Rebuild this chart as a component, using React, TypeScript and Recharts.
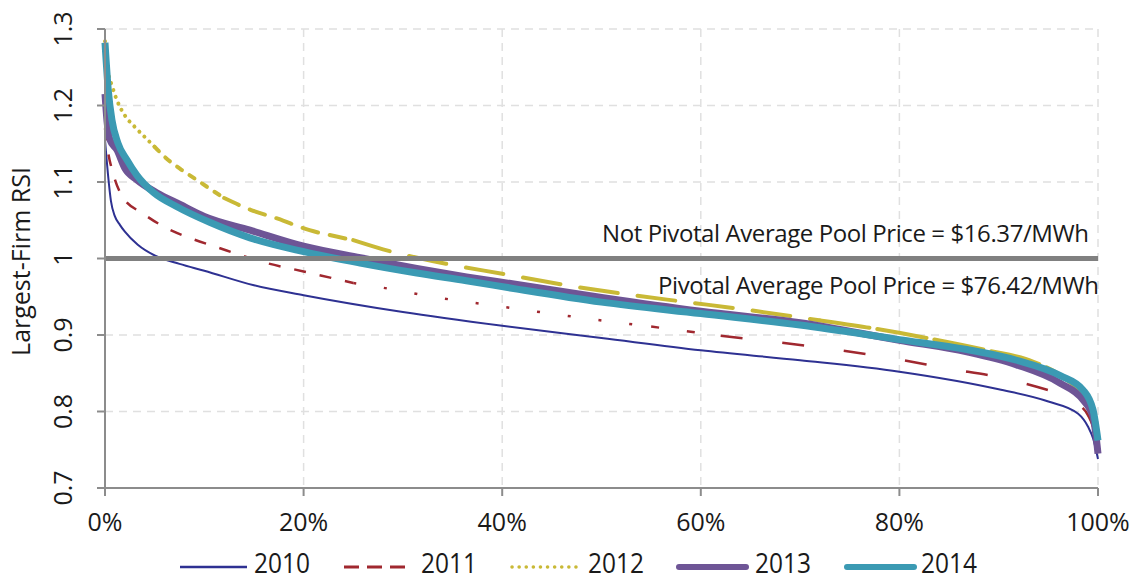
import React from 'react';
import { LineChart, Line, XAxis, YAxis, CartesianGrid, ReferenceLine } from 'recharts';

// ---------- data ----------
const X_TICKS = [0, 20, 40, 60, 80, 100];
const Y_TICKS = [0.7, 0.8, 0.9, 1.0, 1.1, 1.2, 1.3];
const Y_TICK_LABELS = ['0.7', '0.8', '0.9', '1', '1.1', '1.2', '1.3'];
const SERIES_NAMES = ['2010', '2011', '2012', '2013', '2014'];
const Y_TITLE = 'Largest-Firm RSI';
const NOT_PIVOTAL_LABEL = 'Not Pivotal Average Pool Price = $16.37/MWh';
const PIVOTAL_LABEL = 'Pivotal Average Pool Price = $76.42/MWh';
const THRESHOLD = 1.0;

const pct2010 = [0, 0.3, 0.6, 1, 1.5, 2, 3.3, 5, 7.5, 10, 15, 20, 30, 40, 50, 60, 70, 80, 90, 95, 98, 99, 99.5, 100];
const rsi2010 = [1.155, 1.11, 1.075, 1.055, 1.044, 1.035, 1.018, 1.004, 0.993, 0.984, 0.965, 0.952, 0.93, 0.912, 0.896, 0.88, 0.867, 0.852, 0.829, 0.813, 0.797, 0.78, 0.765, 0.738];

const pct2011 = [0, 0.3, 0.8, 1.8, 3.8, 6, 8.5, 11, 16, 20, 25, 27, 33, 40, 50, 55, 62, 70, 80, 85, 90, 95, 97, 98, 99, 99.5, 100];
const rsi2011 = [1.17, 1.14, 1.112, 1.08, 1.059, 1.041, 1.027, 1.016, 0.995, 0.983, 0.968, 0.964, 0.95, 0.937, 0.919, 0.911, 0.899, 0.887, 0.868, 0.856, 0.845, 0.828, 0.82, 0.81, 0.795, 0.78, 0.75];

const pct2012 = [0, 0.3, 0.7, 1.2, 2, 3, 4.3, 5, 6, 7.7, 9.2, 10.7, 12, 14.6, 17.4, 20.6, 23.2, 25, 28, 34.4, 40, 46.5, 52.6, 58.6, 64.6, 70, 72, 76.7, 82.8, 88.8, 93.5, 96.9, 98.9, 99.5, 100];
const rsi2012 = [1.284, 1.245, 1.226, 1.207, 1.187, 1.172, 1.155, 1.146, 1.133, 1.116, 1.103, 1.09, 1.079, 1.064, 1.052, 1.037, 1.029, 1.024, 1.012, 0.993, 0.98, 0.965, 0.953, 0.943, 0.933, 0.923, 0.919, 0.91, 0.896, 0.88, 0.865, 0.841, 0.815, 0.8, 0.77];

const pct2013 = [0, 0.2, 0.5, 1.2, 2, 3.2, 5.2, 7.5, 10, 14.6, 20, 25.7, 31.4, 36.4, 41.5, 50, 60, 70, 80, 86.8, 91.8, 96.2, 98.5, 99.5, 100];
const rsi2013 = [1.215, 1.18, 1.155, 1.142, 1.118, 1.103, 1.086, 1.071, 1.055, 1.037, 1.016, 1.001, 0.987, 0.976, 0.966, 0.949, 0.931, 0.916, 0.893, 0.878, 0.861, 0.837, 0.815, 0.793, 0.745];

const pct2014 = [0, 0.33, 0.7, 1.3, 2.2, 3.2, 4.9, 7.2, 10.6, 14.6, 20, 25.7, 31.4, 36.4, 41.5, 50, 60, 70, 80, 86.8, 91.8, 96.2, 98.5, 99.5, 100];
const rsi2014 = [1.282, 1.22, 1.181, 1.151, 1.129, 1.109, 1.086, 1.068, 1.047, 1.027, 1.009, 0.994, 0.981, 0.971, 0.96, 0.943, 0.928, 0.913, 0.894, 0.881, 0.867, 0.847, 0.828, 0.802, 0.762];

// ---------- helpers / styles ----------
const FONT = "'Open Sans', 'DejaVu Sans', sans-serif";
const LEGEND_FONT = "'Liberation Sans Narrow', 'Open Sans', sans-serif";
const AXIS_COLOR = '#8c8c8c';
const GRID_COLOR = '#e0e0e0';
const TEXT_COLOR = '#1a1a1a';

const toPoints = (pcts: number[], vals: number[]) => pcts.map((p, i) => ({ x: p, y: vals[i] }));
const segment = (pcts: number[], vals: number[], a: number, b: number) =>
  toPoints(pcts, vals).filter((d) => d.x >= a && d.x <= b);

const COLORS = {
  '2010': '#2e3192',
  '2011': '#a0282f',
  '2012': '#c9b936',
  '2013': '#6e5596',
  '2014': '#3b9ab3',
};

// dash styling segments: [from, to, dasharray]
const SEG_2011: [number, number, string][] = [
  [0, 25, '12 14'],
  [25, 55, '3 28'],
  [55, 62, '8 28'],
  [62, 100, '22 40'],
];
const SEG_2012: [number, number, string][] = [
  [0, 5, '0.1 7'],
  [5, 12, '6 9'],
  [12, 25, '16 12'],
  [25, 72, '38 20'],
  [72, 100, '50 8'],
];

const YTick = (props: any) => {
  const { y, payload } = props;
  const idx = Y_TICKS.findIndex((t) => Math.abs(t - payload.value) < 1e-6);
  const label = idx >= 0 ? Y_TICK_LABELS[idx] : String(payload.value);
  return (
    <g transform={`translate(72, ${y}) rotate(-90)`}>
      <text x={0} y={0} textAnchor="middle" fontFamily={FONT} fontSize={25} fill={TEXT_COLOR}>
        {label}
      </text>
    </g>
  );
};

const XTick = (props: any) => {
  const { x, y, payload } = props;
  return (
    <text x={x} y={y + 33} textAnchor="middle" fontFamily={FONT} fontSize={25} fill={TEXT_COLOR}>
      {`${payload.value}%`}
    </text>
  );
};

const YTitle = (props: any) => {
  const vb = props.viewBox || { x: 0, y: 29, width: 105, height: 459 };
  const cy = vb.y + vb.height / 2 + 3;
  return (
    <g transform={`translate(30, ${cy}) rotate(-90)`}>
      <text x={0} y={0} textAnchor="middle" fontFamily={FONT} fontSize={25} fill={TEXT_COLOR}>
        {Y_TITLE}
      </text>
    </g>
  );
};

const AnnotationLabel = (props: any) => {
  const vb = props.viewBox || { x: 105, y: 259, width: 993, height: 0 };
  const right = vb.x + vb.width;
  const y = vb.y;
  return (
    <g fontFamily={FONT} fontSize={24} fill={TEXT_COLOR}>
      <text x={right - 9} y={y - 17} textAnchor="end" textLength={487}>
        {NOT_PIVOTAL_LABEL}
      </text>
      <text x={right + 1} y={y + 35} textAnchor="end" textLength={441}>
        {PIVOTAL_LABEL}
      </text>
    </g>
  );
};

const LEGEND_ITEMS = [
  { name: SERIES_NAMES[0], x1: 180, x2: 247, tx: 254, w: 2.5, dash: undefined, cap: 'butt' },
  { name: SERIES_NAMES[1], x1: 344, x2: 413, tx: 421, w: 3, dash: '15 8', cap: 'butt' },
  { name: SERIES_NAMES[2], x1: 512, x2: 577, tx: 588, w: 3.5, dash: '0.1 7', cap: 'round' },
  { name: SERIES_NAMES[3], x1: 679, x2: 746, tx: 755, w: 6, dash: undefined, cap: 'round' },
  { name: SERIES_NAMES[4], x1: 847, x2: 914, tx: 921, w: 6, dash: undefined, cap: 'round' },
];

const LegendOverlay = () => (
  <svg
    width={1134}
    height={582}
    style={{ position: 'absolute', left: 0, top: 0, pointerEvents: 'none' }}
  >
    {LEGEND_ITEMS.map((it) => (
      <g key={it.name}>
        <line
          x1={it.x1}
          x2={it.x2}
          y1={567}
          y2={567}
          stroke={(COLORS as any)[it.name]}
          strokeWidth={it.w}
          strokeDasharray={it.dash}
          strokeLinecap={it.cap as any}
        />
        <text
          x={it.tx}
          y={573}
          fontFamily={LEGEND_FONT}
          fontSize={27}
          fill={TEXT_COLOR}
          textLength={56}
          lengthAdjust="spacingAndGlyphs"
        >
          {it.name}
        </text>
      </g>
    ))}
  </svg>
);

export default function App() {
  return (
    <div style={{ position: 'absolute', left: 0, top: 0, width: 1134, height: 582, background: '#fff' }}>
      <LineChart width={1134} height={582} margin={{ top: 29, right: 36, left: 0, bottom: 54 }}>
        <CartesianGrid stroke={GRID_COLOR} strokeWidth={1.5} strokeDasharray="8 6" />
        <XAxis
          type="number"
          dataKey="x"
          domain={[0, 100]}
          ticks={X_TICKS}
          height={40}
          tickSize={8}
          axisLine={{ stroke: AXIS_COLOR, strokeWidth: 2 }}
          tickLine={{ stroke: AXIS_COLOR, strokeWidth: 2 }}
          tick={<XTick />}
          interval={0}
        />
        <YAxis
          type="number"
          dataKey="y"
          domain={[0.7, 1.3]}
          ticks={Y_TICKS}
          width={105}
          tickSize={8}
          allowDataOverflow
          axisLine={{ stroke: AXIS_COLOR, strokeWidth: 2 }}
          tickLine={{ stroke: AXIS_COLOR, strokeWidth: 2 }}
          tick={<YTick />}
          interval={0}
          label={(p: any) => <YTitle {...p} />}
        />
        <Line
          data={toPoints(pct2010, rsi2010)}
          dataKey="y"
          name={SERIES_NAMES[0]}
          type="monotone"
          stroke={COLORS['2010']}
          strokeWidth={2}
          dot={false}
          isAnimationActive={false}
        />
        {SEG_2011.map(([a, b, dash]) => (
          <Line
            key={`2011-${a}`}
            data={segment(pct2011, rsi2011, a, b)}
            dataKey="y"
            name={SERIES_NAMES[1]}
            type="monotone"
            stroke={COLORS['2011']}
            strokeWidth={2.5}
            strokeDasharray={dash}
            dot={false}
            isAnimationActive={false}
          />
        ))}
        {SEG_2012.map(([a, b, dash]) => (
          <Line
            key={`2012-${a}`}
            data={segment(pct2012, rsi2012, a, b)}
            dataKey="y"
            name={SERIES_NAMES[2]}
            type="monotone"
            stroke={COLORS['2012']}
            strokeWidth={4}
            strokeLinecap="round"
            strokeDasharray={dash}
            dot={false}
            isAnimationActive={false}
          />
        ))}
        <Line
          data={toPoints(pct2013, rsi2013)}
          dataKey="y"
          name={SERIES_NAMES[3]}
          type="monotone"
          stroke={COLORS['2013']}
          strokeWidth={7}
          dot={false}
          isAnimationActive={false}
        />
        <Line
          data={toPoints(pct2014, rsi2014)}
          dataKey="y"
          name={SERIES_NAMES[4]}
          type="monotone"
          stroke={COLORS['2014']}
          strokeWidth={7}
          dot={false}
          isAnimationActive={false}
        />
        <ReferenceLine
          y={THRESHOLD}
          stroke="#808080"
          strokeWidth={5}
          ifOverflow="visible"
          label={(p: any) => <AnnotationLabel {...p} />}
        />
      </LineChart>
      <LegendOverlay />
    </div>
  );
}
